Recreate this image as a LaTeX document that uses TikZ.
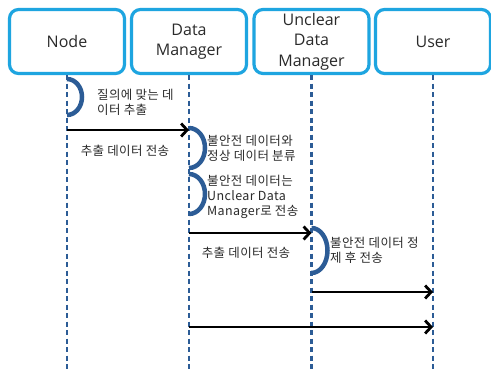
\documentclass[tikz,border=0pt]{standalone}
\usepackage{fontspec}
\setmainfont{Noto Sans CJK KR}[LetterSpace=3]
\newfontfamily\hdrfont{Open Sans}
\usetikzlibrary{arrows.meta}
\definecolor{boxblue}{HTML}{1EA5E0}
\definecolor{lifeblue}{HTML}{2C5C96}
\definecolor{txt}{HTML}{2A2A2A}
\begin{document}
\begin{tikzpicture}[x=1pt,y=-1pt,
  actor/.style={draw=boxblue, line width=3.2pt, rounded corners=9pt, minimum width=115pt, minimum height=64pt, align=center, font=\hdrfont\fontsize{16}{20.5}\selectfont, text=txt, inner sep=0pt},
  life/.style={draw=lifeblue, line width=2.8pt, dash pattern=on 5pt off 3.5pt},
  selfloop/.style={draw=lifeblue, line width=4.5pt},
  msg/.style={draw=black, line width=2.8pt, -{Straight Barb[length=6pt,width=13pt,line width=2.8pt]}},
  lbl/.style={font=\fontsize{12.5}{15}\selectfont, align=left, anchor=north west, inner sep=0pt, text=txt},
  clbl/.style={font=\fontsize{12.5}{15}\selectfont, align=center, inner sep=0pt, text=txt}
]
\useasboundingbox (0,0) rectangle (491,369);
\fill[white] (0,0) rectangle (491,369);
% actors
\node[actor] (nd) at (67,41.5) {Node};
\node[actor] (dm) at (189,41.5) {Data\\Manager};
\node[actor] (udm) at (311.5,41.5) {Unclear\\Data\\Manager};
\node[actor] (usr) at (433,41.5) {User};
% lifeline ends
\coordinate (ndE) at (nd.south |- 0,369);
\coordinate (dmE) at (dm.south |- 0,369);
\coordinate (udmE) at (udm.south |- 0,369);
\coordinate (usrE) at (usr.south |- 0,369);
\draw[life] (nd.south) -- (ndE);
\draw[life] (dm.south) -- (dmE);
\draw[life] (udm.south) -- (udmE);
\draw[life] (usr.south) -- (usrE);
% self loops
\draw[selfloop] (nd.south |- 0,79) arc[start angle=90,end angle=-90,x radius=15pt,y radius=18pt];
\draw[selfloop] (dm.south |- 0,128) arc[start angle=90,end angle=-90,x radius=16pt,y radius=20pt];
\draw[selfloop] (dm.south |- 0,174) arc[start angle=90,end angle=-90,x radius=16pt,y radius=20pt];
\draw[selfloop] (udm.south |- 0,228) arc[start angle=90,end angle=-90,x radius=16pt,y radius=22.5pt];
% message points
\coordinate (m1s) at (nd.south |- 0,130);
\coordinate (m1e) at (dm.south |- 0,130);
\coordinate (m2s) at (dm.south |- 0,233);
\coordinate (m2e) at (udm.south |- 0,233);
\coordinate (m3s) at (udm.south |- 0,292);
\coordinate (m3e) at (usr.south |- 0,292);
\coordinate (m4s) at (dm.south |- 0,327);
\coordinate (m4e) at (usr.south |- 0,327);
\draw[msg] (m1s) -- (m1e);
\draw[msg] (m2s) -- (m2e);
\draw[msg] (m3s) -- (m3e);
\draw[msg] (m4s) -- (m4e);
% labels
\node[lbl] (l1) at (97,89) {질의에 맞는 데\\이터 추출};
\node[clbl] (l2) at (125,151) {추출 데이터 전송};
\node[lbl] (l3) at (207,135) {불안전 데이터와\\정상 데이터 분류};
\node[lbl] (l4) at (207,175) {불안전 데이터는\\Unclear Data\\Manager로 전송};
\node[clbl] (l5) at (246,253) {추출 데이터 전송};
\node[lbl] (l6) at (330,237) {불안전 데이터 정\\제 후 전송};
\end{tikzpicture}
\end{document}
